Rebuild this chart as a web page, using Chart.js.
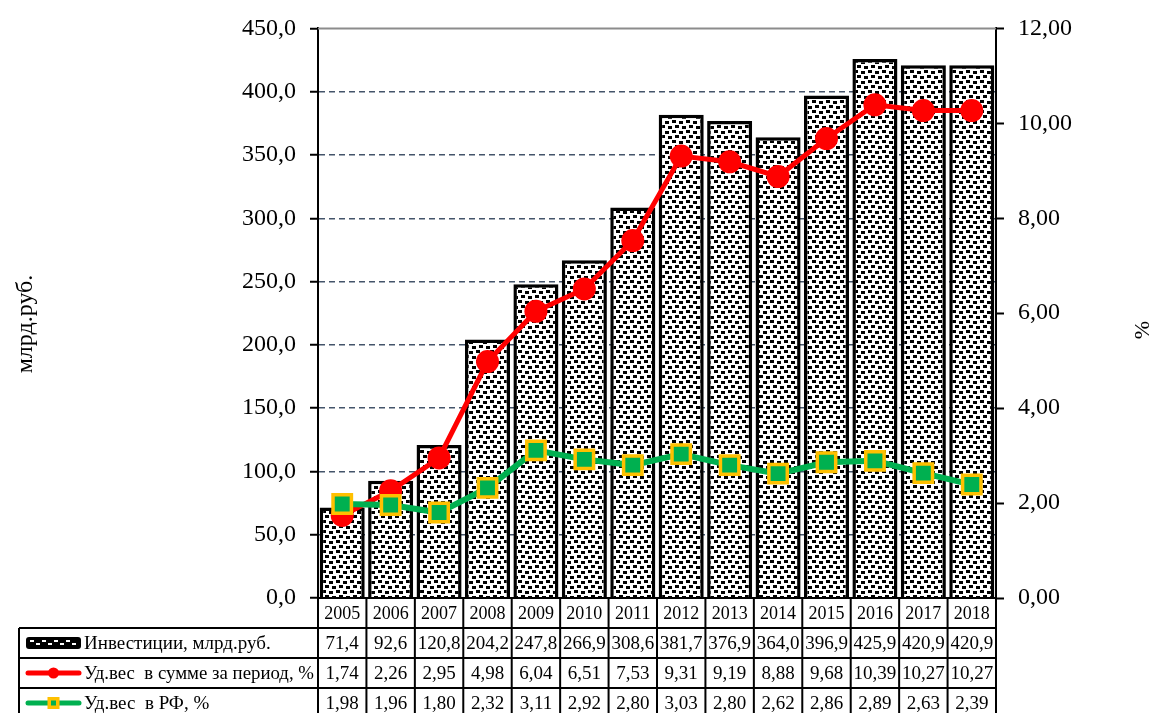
<!DOCTYPE html>
<html>
<head>
<meta charset="utf-8">
<script src="https://cdn.jsdelivr.net/npm/chart.js@4"></script>
<style>
  body { margin: 0; background: #fff; }
  canvas { display: block; }
</style>
</head>
<body>
<canvas id="chart" width="1153" height="713"></canvas>
<script>
const years = ['2005','2006','2007','2008','2009','2010','2011','2012','2013','2014','2015','2016','2017','2018'];
const investments = [71.4, 92.6, 120.8, 204.2, 247.8, 266.9, 308.6, 381.7, 376.9, 364.0, 396.9, 425.9, 420.9, 420.9];
const sharePeriod = [1.74, 2.26, 2.95, 4.98, 6.04, 6.51, 7.53, 9.31, 9.19, 8.88, 9.68, 10.39, 10.27, 10.27];
const shareRF = [1.98, 1.96, 1.80, 2.32, 3.11, 2.92, 2.80, 3.03, 2.80, 2.62, 2.86, 2.89, 2.63, 2.39];

const seriesNames = ['Инвестиции, млрд.руб.', 'Уд.вес  в сумме за период, %', 'Уд.вес  в РФ, %'];
const leftTitle = 'млрд.руб.';
const rightTitle = '%';

const serif = '"Liberation Serif", "Times New Roman", serif';

// dotted fill for the bars
function makePattern() {
  const c = document.createElement('canvas');
  c.width = 14; c.height = 10;
  const g = c.getContext('2d');
  g.fillStyle = '#fff';
  g.fillRect(0, 0, 14, 10);
  g.fillStyle = '#000';
  g.fillRect(0, 0, 4, 3);
  g.fillRect(7, 1, 4, 3);
  g.fillRect(3, 5, 4, 3);
  g.fillRect(10, 6, 4, 3);
  return g.createPattern(c, 'repeat');
}
const ctx = document.getElementById('chart').getContext('2d');
const dots = makePattern();

const comma = (v, d) => v.toFixed(d).replace('.', ',');

// gridline at top (solid grey)
const framePlugin = {
  id: 'frame',
  beforeDatasetsDraw(chart) {
    const { ctx, chartArea: a } = chart;
    ctx.save();
    ctx.strokeStyle = '#8c8c8c';
    ctx.lineWidth = 2;
    ctx.beginPath();
    ctx.moveTo(a.left, a.top);
    ctx.lineTo(a.right, a.top);
    ctx.stroke();
    ctx.restore();
  }
};

// data table under the plot
const tablePlugin = {
  id: 'table',
  afterDraw(chart) {
    const { ctx, chartArea: a } = chart;
    const xs = chart.scales.x;
    const half = (xs.getPixelForValue(1) - xs.getPixelForValue(0)) / 2;
    const top = a.bottom;
    const rowH = 30;
    const rows = [top, top + rowH, top + 2 * rowH, top + 3 * rowH, top + 4 * rowH];
    const legLeft = 19;
    const right = xs.getPixelForValue(years.length - 1) + half;

    ctx.save();
    ctx.strokeStyle = '#000';
    ctx.lineWidth = 2;
    ctx.beginPath();
    ctx.moveTo(a.left, top); ctx.lineTo(a.right, top);
    for (let r = 1; r < 4; r++) {
      ctx.moveTo(legLeft, rows[r]); ctx.lineTo(right, rows[r]);
    }
    for (let i = 0; i <= years.length; i++) {
      const x = xs.getPixelForValue(i) - half;
      ctx.moveTo(x, top); ctx.lineTo(x, rows[4]);
    }
    ctx.moveTo(legLeft, rows[1]); ctx.lineTo(legLeft, rows[4]);
    ctx.stroke();

    ctx.fillStyle = '#000';
    ctx.textAlign = 'center';
    ctx.textBaseline = 'middle';
    const cols = [years, investments.map(v => comma(v, 1)), sharePeriod.map(v => comma(v, 2)), shareRF.map(v => comma(v, 2))];
    cols.forEach((vals, r) => {
      ctx.font = (r === 0 ? '18px ' : '19px ') + serif;
      const cy = rows[r] + rowH / 2 + 1;
      vals.forEach((t, i) => ctx.fillText(t, xs.getPixelForValue(i), cy, 2 * half - 4));
    });

    // legend keys
    const kx = 26, kw = 55;
    let cy = rows[1] + rowH / 2;
    ctx.fillStyle = '#000';
    ctx.beginPath();
    ctx.roundRect(kx, cy - 6, kw, 12, 3);
    ctx.fill();
    ctx.fillStyle = '#fff';
    for (let x = kx + 4; x < kx + kw - 4; x += 6) {
      ctx.fillRect(x, cy - 1 + ((x / 6) % 2 ? -2 : 1), 4, 2);
    }

    cy = rows[2] + rowH / 2;
    ctx.strokeStyle = '#ff0000';
    ctx.lineWidth = 5;
    ctx.lineCap = 'round';
    ctx.beginPath(); ctx.moveTo(kx + 2, cy); ctx.lineTo(kx + kw - 2, cy); ctx.stroke();
    ctx.fillStyle = '#ff0000';
    ctx.beginPath(); ctx.arc(kx + kw / 2, cy, 5.5, 0, Math.PI * 2); ctx.fill();

    cy = rows[3] + rowH / 2;
    ctx.strokeStyle = '#00b050';
    ctx.beginPath(); ctx.moveTo(kx + 2, cy); ctx.lineTo(kx + kw - 2, cy); ctx.stroke();
    ctx.fillStyle = '#ffc000';
    ctx.fillRect(kx + kw / 2 - 6, cy - 6, 12, 12);
    ctx.fillStyle = '#00b050';
    ctx.fillRect(kx + kw / 2 - 2.5, cy - 2.5, 5, 5);

    ctx.fillStyle = '#000';
    ctx.textAlign = 'left';
    ctx.font = '19px ' + serif;
    seriesNames.forEach((name, r) => {
      ctx.fillText(name, 84, rows[r + 1] + rowH / 2 + 1, a.left - 88);
    });

    // axis titles
    ctx.textAlign = 'center';
    ctx.font = '24px ' + serif;
    ctx.save();
    ctx.translate(26, 324);
    ctx.rotate(-Math.PI / 2);
    ctx.fillText(leftTitle, 0, 0);
    ctx.restore();
    ctx.font = '22px ' + serif;
    ctx.save();
    ctx.translate(1143, 330);
    ctx.rotate(-Math.PI / 2);
    ctx.fillText(rightTitle, 0, 0);
    ctx.restore();
    ctx.restore();
  }
};

new Chart(ctx, {
  type: 'bar',
  data: {
    labels: years,
    datasets: [
      {
        type: 'line',
        label: seriesNames[2],
        data: shareRF,
        yAxisID: 'y1',
        order: 0,
        borderColor: '#00b050',
        borderWidth: 6,
        pointStyle: 'rect',
        pointRadius: 13,
        pointBackgroundColor: '#00b050',
        pointBorderColor: '#ffc000',
        pointBorderWidth: 3.5
      },
      {
        type: 'line',
        label: seriesNames[1],
        data: sharePeriod,
        yAxisID: 'y1',
        order: 1,
        borderColor: '#ff0000',
        borderWidth: 5,
        pointRadius: 11.5,
        pointBackgroundColor: '#ff0000',
        pointBorderWidth: 0
      },
      {
        label: seriesNames[0],
        data: investments,
        yAxisID: 'y',
        order: 2,
        backgroundColor: dots,
        borderColor: '#000',
        borderWidth: 3.5,
        barPercentage: 0.93,
        categoryPercentage: 1
      }
    ]
  },
  options: {
    responsive: false,
    animation: false,
    devicePixelRatio: 1,
    layout: { padding: { top: 28, bottom: 115, left: 0, right: 0 } },
    plugins: { legend: { display: false }, tooltip: { enabled: false } },
    scales: {
      x: { display: false },
      y: {
        position: 'left',
        min: 0, max: 450,
        ticks: {
          stepSize: 50,
          padding: 14,
          color: '#000',
          font: { family: serif, size: 24 },
          callback: v => comma(v, 1)
        },
        grid: {
          color: c => (c.tick.value === 0 || c.tick.value === 450) ? 'rgba(0,0,0,0)' : '#44546a',
          lineWidth: 1.5,
          tickLength: 8,
          tickColor: '#000',
          tickWidth: 2
        },
        border: { color: '#000', width: 2, dash: [6, 4] },
        afterFit: s => { s.width = 318; }
      },
      y1: {
        position: 'right',
        min: 0, max: 12,
        ticks: {
          stepSize: 2,
          padding: 14,
          color: '#000',
          font: { family: serif, size: 24 },
          callback: v => comma(v, 2)
        },
        grid: {
          drawOnChartArea: false,
          tickLength: 8,
          tickColor: '#000',
          tickWidth: 2
        },
        border: { color: '#000', width: 2 },
        afterFit: s => { s.width = 157; }
      }
    }
  },
  plugins: [framePlugin, tablePlugin]
});
</script>
</body>
</html>
